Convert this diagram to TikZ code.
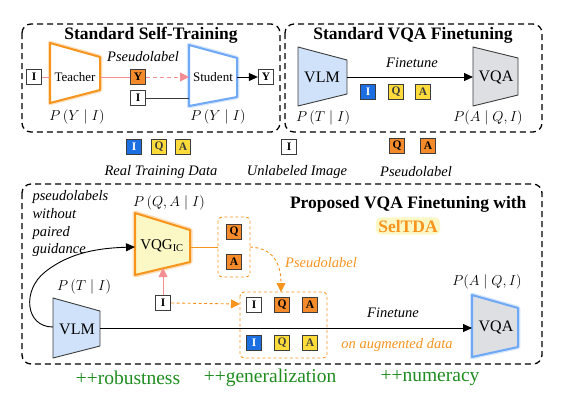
\documentclass[tikz,border=0pt]{standalone}
\usepackage{fontspec}
\setmainfont{Liberation Serif}
\usetikzlibrary{arrows.meta}
\definecolor{orng}{HTML}{F7941D}
\definecolor{orbox}{HTML}{F58A2A}
\definecolor{bluebox}{HTML}{1C6FE0}
\definecolor{ylw}{HTML}{FDDB3A}
\definecolor{lblue}{HTML}{CFE2FA}
\definecolor{lgray}{HTML}{DDDFE3}
\definecolor{glowblue}{HTML}{6FA8F5}
\definecolor{pnk}{HTML}{F58E93}
\definecolor{grn}{HTML}{1E8C1E}
\definecolor{lyel}{HTML}{FBF8C6}
\definecolor{dgray}{HTML}{3C3C3C}
\tikzset{
  frame/.style={draw=black, dash pattern=on 6pt off 4pt, line width=1.3pt, rounded corners=9pt},
  lbox/.style={draw=dgray, line width=0.8pt, minimum size=15.5pt, inner sep=0pt, font=\fontsize{11.5}{13}\selectfont\bfseries},
  ibox/.style={lbox, fill=white, text=black},
  bbox/.style={lbox, fill=bluebox, text=white},
  ybox/.style={lbox, fill=ylw, text=dgray},
  obox/.style={lbox, fill=orbox, text=black},
  ttl/.style={font=\fontsize{17.5}{20}\selectfont\bfseries, anchor=base},
  lab/.style={font=\fontsize{13}{15}\selectfont},
  biglab/.style={font=\fontsize{16}{18}\selectfont},
  itl/.style={font=\fontsize{14.5}{17}\selectfont\itshape},
  mth/.style={font=\fontsize{15.5}{17}\selectfont},
  grnlab/.style={font=\fontsize{19.5}{22}\selectfont, text=grn},
  arr/.style={-{Triangle[length=9pt,width=8pt]}, line width=0.9pt},
  parr/.style={-{Triangle[length=9pt,width=9pt]}, line width=0.9pt, draw=pnk, color=pnk},
  oarr/.style={-{Triangle[length=9pt,width=9pt]}, line width=0.9pt, draw=orng, color=orng, dash pattern=on 3pt off 2.5pt},
  enc/.style={fill=lblue, draw=dgray, line width=0.9pt, line join=round},
  dec/.style={fill=lgray, draw=dgray, line width=0.9pt, line join=round},
}
\begin{document}
\begin{tikzpicture}[x=1pt,y=-1pt]
\useasboundingbox (0,0) rectangle (564,405);

% ---------- frames ----------
\draw[frame] (22,24) rectangle (280,132);
\draw[frame] (285,24) rectangle (542,132);
\draw[frame] (22,184) rectangle (542,364);

% ---------- Standard Self-Training ----------
\node[ttl] (t1) at (151,39) {Standard Self-Training};
% teacher
\draw[orng, line width=4.5pt, opacity=0.3, line join=round] (50,43) -- (100,57) -- (100,90) -- (50,103) -- cycle;
\draw[orng, fill=white, line width=2pt, line join=round] (50,43) -- (100,57) -- (100,90) -- (50,103) -- cycle;
\coordinate (teaL) at (50,77);
\coordinate (teaR) at (100,77);
\node[lab] (teacher) at (75,77) {Teacher};
% student
\draw[glowblue, line width=4.5pt, opacity=0.3, line join=round] (189,45) -- (237,58) -- (237,97) -- (189,106) -- cycle;
\draw[glowblue, fill=white, line width=2pt, line join=round] (189,45) -- (237,58) -- (237,97) -- (189,106) -- cycle;
\coordinate (stuL) at (189,77);
\coordinate (stuLb) at (189,98);
\coordinate (stuR) at (237,77);
\node[lab] (student) at (213,77) {Student};

\node[ibox] (I1) at (34,77) {I};
\node[obox] (Y1) at (138,77) {Y};
\node[ibox] (I2) at (138,98) {I};
\node[ibox] (Y2) at (266,77) {Y};
\draw[pnk, line width=0.9pt] (I1.east) -- (teaL);
\draw[pnk, line width=0.9pt] (teaR) -- (Y1.west);
\draw[parr, dash pattern=on 4pt off 3pt] (Y1.east) -- (stuL);
\draw[arr] (stuR) -- (Y2.west);
\draw[dgray, line width=0.9pt] (I2.east) -- (stuLb);
\node[itl] (pl1) at (143,57) {Pseudolabel};
\node[mth] (p1) at (77,117) {$P\,(Y \mid I)$};
\node[mth] (p2) at (218,117) {$P\,(Y \mid I)$};

% ---------- Standard VQA Finetuning ----------
\node[ttl] (t2) at (413,39) {Standard VQA Finetuning};
\draw[enc] (298,47) -- (347,60) -- (347,94) -- (298,106) -- cycle;
\draw[dec] (473,47) -- (518,58) -- (518,95) -- (473,106) -- cycle;
\coordinate (vlmR) at (347,77);
\coordinate (vqaL) at (473,77);
\node[biglab] (vlm1) at (322,77) {VLM};
\node[biglab] (vqa1) at (496,77) {VQA};
\draw[arr] (vlmR) -- (vqaL);
\node[itl] (ft1) at (412,63) {Finetune};
\node[bbox] (bI) at (368,92) {I};
\node[ybox] (bQ) at (396,92) {Q};
\node[ybox] (bA) at (423,92) {A};
\node[mth] (p3) at (323,118) {$P\,(T \mid I)$};
\node[mth] (p4) at (488,118) {$P(A \mid Q, I)$};

% ---------- legend ----------
\node[bbox] (lI) at (134,147) {I};
\node[ybox] (lQ) at (159,147) {Q};
\node[ybox] (lA) at (183,147) {A};
\node[itl] (lt1) at (161,172) {Real Training Data};
\node[ibox] (uI) at (289,147) {I};
\node[itl] (lt2) at (297,172) {Unlabeled Image};
\node[obox] (pQ) at (397,146) {Q};
\node[obox] (pA) at (428,146) {A};
\node[itl] (lt3) at (416,172) {Pseudolabel};

% ---------- Proposed ----------
\node[ttl, anchor=base east] (t3) at (530,208) {Proposed VQA Finetuning with};
\node[ttl, text=orng, fill=lyel, rounded corners=5pt, inner sep=2.5pt] (sel) at (408,232) {SelTDA};
\node[itl, anchor=north west, align=left, font=\fontsize{14.5}{17.7}\selectfont\itshape] (pwg) at (29,187) {pseudolabels\\without\\paired\\guidance};

% VQG
\draw[orng, line width=5pt, opacity=0.3, line join=round] (135,213) -- (190,230) -- (190,262) -- (135,275) -- cycle;
\draw[orng, fill=lyel, line width=2pt, line join=round] (135,213) -- (190,230) -- (190,262) -- (135,275) -- cycle;
\coordinate (vqgL) at (135,247);
\coordinate (vqgR) at (190,247);
\coordinate (vqgB) at (163,268);
\node[font=\fontsize{15}{17}\selectfont] (vqg) at (162,246) {VQG\textsubscript{IC}};
\node[mth] (p5) at (169,203) {$P\,(Q, A \mid I)$};

% QA pseudolabel box
\draw[orng, line width=0.9pt, dash pattern=on 3pt off 2.5pt, rounded corners=4pt] (218,217) rectangle (250,277);
\coordinate (qaL) at (218,247);
\coordinate (qaR) at (250,247);
\node[obox] (gQ) at (234,232) {Q};
\node[obox] (gA) at (234,262) {A};
\draw[orng, line width=0.9pt] (vqgR) -- (qaL);

% augmented box
\draw[orng, line width=0.9pt, dash pattern=on 3pt off 2.5pt, rounded corners=4pt] (240,292) rectangle (327,358);
\coordinate (augL) at (240,304);
\coordinate (augT) at (281,292);
\node[ibox] (aI1) at (254,305) {I};
\node[obox] (aQ1) at (282,305) {Q};
\node[obox] (aA1) at (310,305) {A};
\node[bbox] (aI2) at (254,343) {I};
\node[ybox] (aQ2) at (282,343) {Q};
\node[ybox] (aA2) at (310,343) {A};

\draw[oarr] (qaR) .. controls (272,248) and (281,262) .. (augT);
\node[itl, text=orng] (pl2) at (321,263) {Pseudolabel};

% VLM bottom
\draw[enc] (53,298) -- (100,311) -- (100,346) -- (53,358) -- cycle;
\coordinate (vlm2L) at (53,327);
\coordinate (vlm2R) at (100,328);
\node[biglab] (vlm2) at (77,329) {VLM};
\node[mth] (p6) at (84,287) {$P\,(T \mid I)$};

% VQA bottom
\draw[glowblue, line width=4.5pt, opacity=0.3, line join=round] (472,295) -- (518,308) -- (518,347) -- (472,357) -- cycle;
\draw[glowblue, fill=lgray, line width=2pt, line join=round] (472,295) -- (518,308) -- (518,347) -- (472,357) -- cycle;
\coordinate (vqa2L) at (472,328);
\node[biglab] (vqa2) at (496,327) {VQA};
\node[mth] (p7) at (487,282) {$P(A \mid Q, I)$};

% connectors
\node[ibox] (I3) at (163,303) {I};
\draw[parr] (I3.north) -- (vqgB);
\draw[oarr] (I3.east) -- (augL);
\draw[arr] (vlm2L) .. controls (25,327) and (22,290) .. (45,272) .. controls (70,252) and (100,248) .. (vqgL);
\draw[arr] (vlm2R) -- (vqa2L);
\node[itl] (ft2) at (393,313) {Finetune};
\node[itl, text=orng] (oad) at (397,345) {on augmented data};

% ---------- bottom green ----------
\node[grnlab] (g1) at (128,378) {++robustness};
\node[grnlab] (g2) at (270,378) {++generalization};
\node[grnlab] (g3) at (430,378) {++numeracy};
\end{tikzpicture}
\end{document}
